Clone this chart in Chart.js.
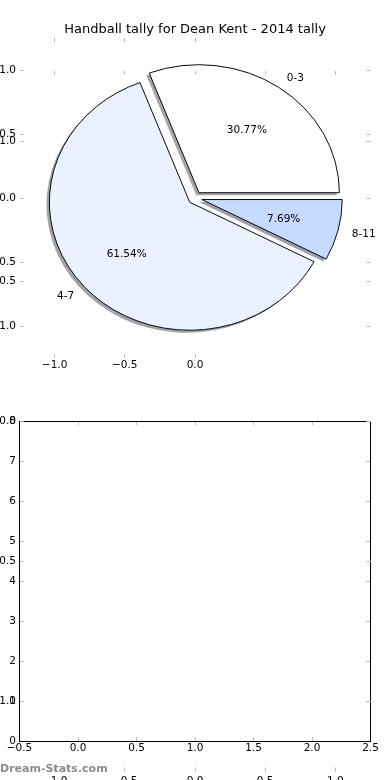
<!DOCTYPE html>
<html>
<head>
<meta charset="utf-8">
<script src="https://cdn.jsdelivr.net/npm/chart.js@4.4.1/dist/chart.umd.min.js"></script>
<style>
  html, body { margin: 0; padding: 0; background: #fff; }
  #fig { position: relative; width: 390px; height: 780px; overflow: hidden; background: #fff; }
  #fig canvas { position: absolute; left: 0; top: 0; }
  #credit { position: absolute; left: 0; top: 763px; font: bold 11px 'DejaVu Sans', sans-serif; color: #8c8c8c; line-height: 12px; white-space: nowrap; }
</style>
</head>
<body>
<div id="fig">
  <canvas id="topAxes" width="390" height="780"></canvas>
  <canvas id="pie" width="390" height="396"></canvas>
  <canvas id="bottomAxes" width="390" height="780"></canvas>
  <canvas id="figAxes" width="390" height="800"></canvas>
  <div id="credit">Dream-Stats.com</div>
</div>
<script>
const title = 'Handball tally for Dean Kent - 2014 tally';
const categories = ['0-3', '4-7', '8-11'];
const tally = [4, 8, 1];
const sliceColors = ['#ffffff', '#eaf1ff', '#c6d9ff'];

const pieTicks = [-1.0, -0.5, 0.0, 0.5, 1.0];
const pieBottomTicks = [-1.0, -0.5, 0.0];
const emptyXTicks = [-0.5, 0.0, 0.5, 1.0, 1.5, 2.0, 2.5];
const emptyYTicks = [0, 1, 2, 3, 4, 5, 6, 7, 8];

const TICK_COLOR = '#bdbdbd';
const EXPLODE = 0.05;
const SHADOW = 0.02;
const SIDE = 19.5; // room left/right of every axes box

Chart.defaults.font.family = "'DejaVu Sans', sans-serif";
Chart.defaults.font.size = 10.5;
Chart.defaults.color = '#000';

// matplotlib-style labels: one decimal, real minus sign
const fmt1 = v => v.toFixed(1).replace('-', '\u2212');
const fmtInt = v => String(v);

function axis(position, lim, ticks, o) {
  const horiz = position === 'top' || position === 'bottom';
  return {
    type: 'linear',
    position,
    min: lim[0],
    max: lim[1],
    afterBuildTicks: s => { s.ticks = ticks.map(v => ({ value: v })); },
    // fixed box sizes so the plot areas line up between canvases
    afterFit: s => { if (horiz) s.height = o.size || 0; else s.width = o.size || 0; },
    grid: { drawOnChartArea: false, drawTicks: true, tickLength: -4, color: TICK_COLOR, lineWidth: 1 },
    border: { display: !!o.frame, color: '#000', width: 1 },
    ticks: {
      display: !!o.labels,
      autoSkip: false,
      maxRotation: 0,
      minRotation: 0,
      padding: o.pad || (horiz ? 5 : 7.5),
      color: '#000',
      callback: o.fmt || fmt1
    }
  };
}

function baseOptions(padding, scales) {
  return {
    responsive: false,
    animation: false,
    events: [],
    layout: { padding },
    plugins: { legend: { display: false }, tooltip: { enabled: false }, title: { display: false } },
    scales
  };
}

// top axes (pie frame: ticks + title)
const topOpts = baseOptions({ left: 0, right: 0, top: 0, bottom: 392 }, {
  x: axis('bottom', [-1.25, 1.25], pieBottomTicks, { labels: true, size: 30 }),
  y: axis('left', [-1.25, 1.25], pieTicks, { labels: true, size: SIDE }),
  x2: axis('top', [-1.25, 1.25], pieBottomTicks, {}),
  y2: axis('right', [-1.25, 1.25], pieTicks, { size: SIDE })
});
topOpts.plugins.title = {
  display: true, text: title, color: '#000',
  font: { size: 13, weight: 'normal' },
  padding: { top: 22.2, bottom: 0.2 }
};
const topAxes = new Chart(document.getElementById('topAxes'), {
  type: 'scatter',
  data: { datasets: [{ data: [] }] },
  options: topOpts
});

const sx = topAxes.scales.x, sy = topAxes.scales.y;
const xUnit = sx.getPixelForValue(1) - sx.getPixelForValue(0);
const yUnit = sy.getPixelForValue(0) - sy.getPixelForValue(1);
const squash = yUnit / xUnit;

function shadowOf(hex) {
  const n = parseInt(hex.slice(1), 16);
  const c = [(n >> 16) & 255, (n >> 8) & 255, n & 255].map(v => Math.round(v * 0.3));
  return 'rgba(' + c.join(',') + ',0.5)';
}

// Chart.js goes clockwise from the start angle, matplotlib counter-clockwise
const order = categories.map((_, i) => i).reverse();
const total = tally.reduce((a, b) => a + b, 0);

const pieLook = {
  id: 'pieLook',
  beforeDatasetDraw(chart, args) {
    const ctx = chart.ctx;
    const arcs = args.meta.data;
    const colors = chart.data.datasets[0].backgroundColor;
    const cx = arcs[0].x, cy = arcs[0].y;
    ctx.save();
    ctx.translate(cx, cy);
    ctx.scale(1, squash);
    ctx.translate(-cx, -cy);
    // shadows first, under every wedge
    arcs.forEach((arc, i) => {
      const r = arc.outerRadius;
      const mid = (arc.startAngle + arc.endAngle) / 2;
      const x0 = arc.x + (Math.cos(mid) * EXPLODE - SHADOW) * r;
      const y0 = arc.y + (Math.sin(mid) * EXPLODE + SHADOW) * r;
      ctx.beginPath();
      ctx.moveTo(x0, y0);
      ctx.arc(x0, y0, r, arc.startAngle, arc.endAngle);
      ctx.closePath();
      ctx.fillStyle = shadowOf(colors[i]);
      ctx.fill();
    });
    arcs.forEach(arc => {
      const r = arc.outerRadius;
      const mid = (arc.startAngle + arc.endAngle) / 2;
      ctx.save();
      ctx.translate(Math.cos(mid) * EXPLODE * r, Math.sin(mid) * EXPLODE * r);
      arc.draw(ctx);
      ctx.restore();
    });
    ctx.restore();
    return false;
  },
  afterDatasetsDraw(chart) {
    const ctx = chart.ctx;
    const arcs = chart.getDatasetMeta(0).data;
    const ds = chart.data.datasets[0];
    ctx.save();
    ctx.font = "10.5px 'DejaVu Sans', sans-serif";
    ctx.fillStyle = '#000';
    ctx.textBaseline = 'middle';
    arcs.forEach((arc, i) => {
      const r = arc.outerRadius;
      const mid = (arc.startAngle + arc.endAngle) / 2;
      const c = Math.cos(mid), s = Math.sin(mid);
      ctx.textAlign = c > 0 ? 'left' : 'right';
      ctx.fillText(chart.data.labels[i], arc.x + (EXPLODE + 1.1) * r * c, arc.y + (EXPLODE + 1.1) * r * s * squash + 1);
      ctx.textAlign = 'center';
      const pct = (ds.data[i] / total * 100).toFixed(2) + '%';
      ctx.fillText(pct, arc.x + (EXPLODE + 0.6) * r * c, arc.y + (EXPLODE + 0.6) * r * s * squash + 1);
    });
    ctx.restore();
  }
};

new Chart(document.getElementById('pie'), {
  type: 'pie',
  data: {
    labels: order.map(i => categories[i]),
    datasets: [{
      data: order.map(i => tally[i]),
      backgroundColor: order.map(i => sliceColors[i]),
      borderColor: '#000',
      borderWidth: 1,
      borderJoinStyle: 'miter',
      radius: xUnit,
      rotation: 90,
      clip: false
    }]
  },
  options: baseOptions(0, {}),
  plugins: [pieLook]
});

// second subplot, empty
new Chart(document.getElementById('bottomAxes'), {
  type: 'scatter',
  data: { datasets: [{ data: [] }] },
  options: baseOptions({ left: 0, right: 0, top: 421, bottom: 9 }, {
    x: axis('bottom', [-0.5, 2.5], emptyXTicks, { labels: true, frame: true, size: 30 }),
    y: axis('left', [0, 8], emptyYTicks, { labels: true, frame: true, fmt: fmtInt, size: SIDE }),
    x2: axis('top', [-0.5, 2.5], emptyXTicks, { frame: true }),
    y2: axis('right', [0, 8], emptyYTicks, { frame: true, size: SIDE })
  })
});

// leftover full-figure axes, drawn on top of the rest
new Chart(document.getElementById('figAxes'), {
  type: 'scatter',
  data: { datasets: [{ data: [] }] },
  options: baseOptions({ left: 0, right: 0, top: 71, bottom: 0 }, {
    x: axis('bottom', [-1.25, 1.25], pieTicks, { labels: true, size: 28.5, pad: 7 }),
    y: axis('left', [-1.25, 1.25], pieTicks, { labels: true, size: SIDE }),
    x2: axis('top', [-1.25, 1.25], pieTicks, {}),
    y2: axis('right', [-1.25, 1.25], pieTicks, { size: SIDE })
  })
});
</script>
</body>
</html>
